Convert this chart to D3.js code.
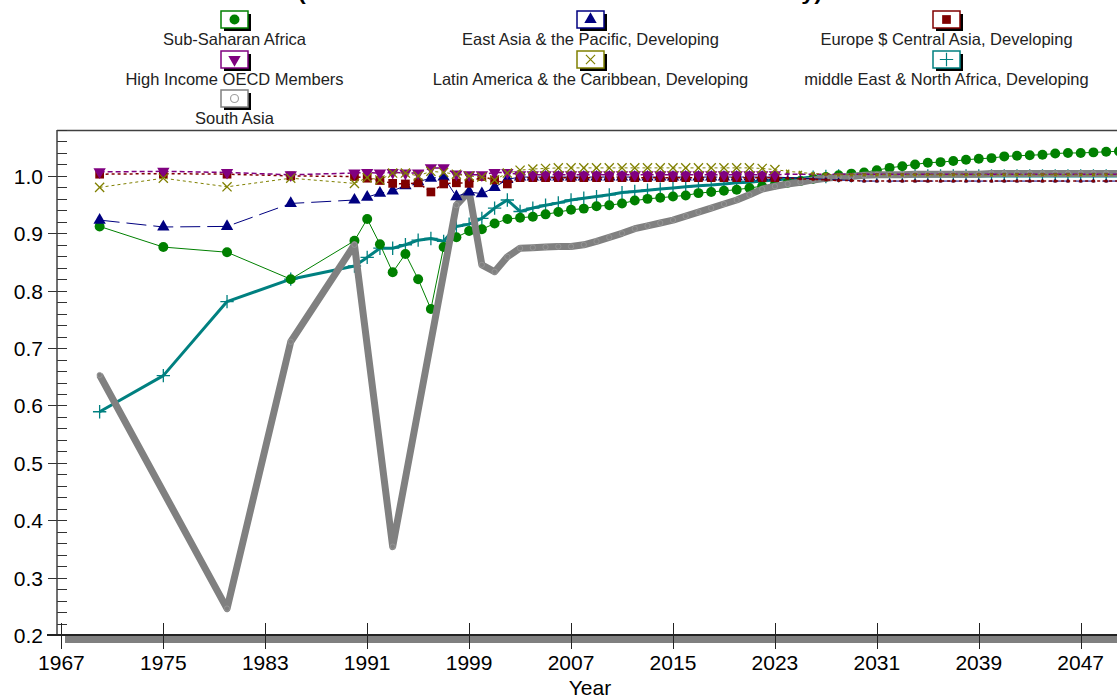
<!DOCTYPE html>
<html>
<head>
<meta charset="utf-8">
<script src="https://cdn.jsdelivr.net/npm/d3@7"></script>
<style>
  html, body { margin: 0; padding: 0; background: #ffffff; }
  svg { display: block; font-family: "Liberation Sans", Arial, sans-serif; }
</style>
</head>
<body>
<svg id="chart" width="1117" height="698"></svg>
<script>
// ---- Data -------------------------------------------------------------
const earlyYears = [1970, 1975, 1980, 1985];
const annualYears = d3.range(1990, 2051);
const regionYears = earlyYears.concat(annualYears);
const southAsiaYears = [1970, 1980, 1985, 1990, 1993, 1998, 1999].concat(d3.range(2000, 2051));

const xTickYears = [1967, 1975, 1983, 1991, 1999, 2007, 2015, 2023, 2031, 2039, 2047];
const yTickLabels = ["0.2", "0.3", "0.4", "0.5", "0.6", "0.7", "0.8", "0.9", "1.0"];

const subSaharanAfrica = [
  0.912, 0.876, 0.867, 0.820,
  0.887, 0.925, 0.881, 0.832, 0.864, 0.820, 0.768, 0.876, 0.893, 0.904,
  0.907, 0.917, 0.925, 0.927, 0.929, 0.933, 0.937, 0.941, 0.943, 0.947,
  0.949, 0.952, 0.957, 0.960, 0.962, 0.964, 0.966, 0.970, 0.972, 0.974,
  0.976, 0.979, 0.982, 0.985, 0.988, 0.991, 0.995, 0.998, 1.001, 1.004,
  1.006, 1.010, 1.014, 1.017, 1.020, 1.023, 1.024, 1.026, 1.028, 1.030,
  1.031, 1.034, 1.035, 1.036, 1.037, 1.039, 1.040, 1.040, 1.041, 1.042,
  1.043
];
const eastAsiaPacific = [
  0.923, 0.911, 0.912, 0.952,
  0.958, 0.963, 0.970, 0.974, 0.983, 0.990, 0.996, 0.998, 0.964, 0.972,
  0.969, 0.980, 0.994, 0.998, 0.998, 0.998, 0.998, 0.998, 0.998, 0.998,
  0.998, 0.998, 0.998, 0.998, 0.998, 0.998, 0.998, 0.998, 0.998, 0.998,
  0.998, 0.998, 0.998, 0.998, 0.997, 0.996, 0.995, 0.994, 0.993, 0.992,
  0.991, 0.991, 0.991, 0.991, 0.991, 0.991, 0.991, 0.991, 0.991, 0.991,
  0.991, 0.991, 0.991, 0.991, 0.991, 0.991, 0.991, 0.991, 0.991, 0.991,
  0.991
];
const europeCentralAsia = [
  1.003, 1.004, 1.003, 1.000,
  0.999, 0.996, 0.992, 0.987, 0.986, 0.988, 0.972, 0.986, 0.988, 0.987,
  0.999, 0.993, 0.986, 0.997, 0.997, 0.997, 0.997, 0.997, 0.997, 0.997,
  0.997, 0.997, 0.997, 0.997, 0.997, 0.997, 0.997, 0.997, 0.997, 0.997,
  0.997, 0.997, 0.997, 0.997, 0.996, 0.995, 0.994, 0.993, 0.992, 0.992,
  0.991, 0.991, 0.991, 0.991, 0.991, 0.991, 0.991, 0.991, 0.991, 0.991,
  0.991, 0.991, 0.991, 0.991, 0.991, 0.991, 0.991, 0.991, 0.991, 0.991,
  0.991
];
const highIncomeOECD = [
  1.007, 1.008, 1.006, 1.002,
  1.005, 1.006, 1.005, 1.006, 1.005, 1.005, 1.014, 1.014, 1.003, 1.002,
  1.002, 1.006, 1.006, 1.002, 1.002, 1.002, 1.002, 1.002, 1.002, 1.002,
  1.002, 1.002, 1.002, 1.002, 1.002, 1.002, 1.002, 1.002, 1.002, 1.002,
  1.002, 1.002, 1.002, 1.002, 1.003, 1.003, 1.003, 1.003, 1.003, 1.003,
  1.003, 1.003, 1.003, 1.003, 1.003, 1.003, 1.003, 1.003, 1.003, 1.003,
  1.003, 1.003, 1.003, 1.003, 1.003, 1.003, 1.003, 1.003, 1.003, 1.003,
  1.003
];
const latinAmericaCaribbean = [
  0.980, 0.996, 0.981, 0.996,
  0.987, 0.997, 0.993, 1.005, 1.005, 1.000, 1.008, 1.006, 1.003, 1.000,
  0.998, 0.993, 1.005, 1.010, 1.012, 1.013, 1.014, 1.014, 1.014, 1.014,
  1.014, 1.014, 1.014, 1.014, 1.014, 1.014, 1.014, 1.014, 1.014, 1.014,
  1.014, 1.014, 1.013, 1.011, 1.008, 1.006, 1.004, 1.003, 1.002, 1.002,
  1.002, 1.002, 1.002, 1.002, 1.002, 1.002, 1.002, 1.002, 1.002, 1.002,
  1.002, 1.002, 1.002, 1.002, 1.002, 1.002, 1.002, 1.002, 1.002, 1.002,
  1.002
];
const middleEastNorthAfrica = [
  0.589, 0.652, 0.781, 0.820,
  0.843, 0.858, 0.874, 0.874, 0.880, 0.888, 0.891, 0.886, 0.912, 0.916,
  0.926, 0.944, 0.958, 0.938, 0.944, 0.949, 0.953, 0.958, 0.961, 0.964,
  0.967, 0.971, 0.973, 0.975, 0.977, 0.979, 0.981, 0.983, 0.984, 0.986,
  0.988, 0.989, 0.991, 0.993, 0.995, 0.996, 0.998, 0.999, 1.000, 1.000,
  1.000, 1.000, 1.000, 1.000, 1.000, 1.000, 1.000, 1.000, 1.000, 1.000,
  1.000, 1.000, 1.000, 1.000, 1.000, 1.000, 1.000, 1.000, 1.000, 1.000,
  1.000
];
const southAsia = [
  0.653, 0.246, 0.711, 0.880, 0.354, 0.949, 0.973,
  0.845, 0.833, 0.859, 0.874, 0.875, 0.876, 0.877, 0.877, 0.880, 0.886,
  0.893, 0.900, 0.908, 0.913, 0.918, 0.923, 0.930, 0.937, 0.944, 0.951,
  0.958, 0.967, 0.977, 0.982, 0.986, 0.989, 0.993, 0.996, 0.998, 0.999,
  1.001, 1.002, 1.002, 1.002, 1.003, 1.003, 1.003, 1.003, 1.003, 1.003,
  1.004, 1.004, 1.004, 1.004, 1.004, 1.004, 1.004, 1.004, 1.004, 1.004,
  1.004
];

const seriesNames = [
  "Sub-Saharan Africa",
  "East Asia & the Pacific, Developing",
  "Europe $ Central Asia, Developing",
  "High Income OECD Members",
  "Latin America & the Caribbean, Developing",
  "middle East & North Africa, Developing",
  "South Asia"
];

// ---- Styling per series ----------------------------------------------
const series = [
  { name: seriesNames[0], years: regionYears, values: subSaharanAfrica, color: "#008000",
    width: 1, dash: null, symbol: d3.symbolCircle, size: 78, fill: true, rotate: 0, shrinkAfter: null },
  { name: seriesNames[1], years: regionYears, values: eastAsiaPacific, color: "#000080",
    width: 1, dash: "20,7", symbol: d3.symbolTriangle, size: 66, fill: true, rotate: 0, shrinkAfter: 2023 },
  { name: seriesNames[2], years: regionYears, values: europeCentralAsia, color: "#800000",
    width: 1.5, dash: "3,3", symbol: d3.symbolSquare, size: 76, fill: true, rotate: 0, shrinkAfter: 2023 },
  { name: seriesNames[3], years: regionYears, values: highIncomeOECD, color: "#800080",
    width: 1.5, dash: "5,3", symbol: d3.symbolTriangle, size: 66, fill: true, rotate: 180, shrinkAfter: 2023 },
  { name: seriesNames[4], years: regionYears, values: latinAmericaCaribbean, color: "#808000",
    width: 1, dash: "3,3", symbol: d3.symbolTimes, size: 56, fill: false, rotate: 0, shrinkAfter: 2023 },
  { name: seriesNames[5], years: regionYears, values: middleEastNorthAfrica, color: "#008080",
    width: 3, dash: null, symbol: d3.symbolPlus, size: 60, fill: false, rotate: 0, shrinkAfter: null },
  { name: seriesNames[6], years: southAsiaYears, values: southAsia, color: "#808080",
    width: 7, dash: null, symbol: d3.symbolCircle, size: 22, fill: false, rotate: 0, shrinkAfter: null }
];

// ---- Layout ------------------------------------------------------------
const svg = d3.select("#chart");
const plot = { left: 57, top: 130, right: 1130, bottom: 635 };

const x = d3.scaleLinear().domain([1967, 2047]).range([61.4, 1080.7]);
const y = d3.scaleLinear().domain([0.2, 1.08]).range([plot.bottom, plot.top]);

// Title (runs above the visible area)
svg.append("text")
  .attr("x", 298).attr("y", 0)
  .attr("textLength", 524).attr("lengthAdjust", "spacingAndGlyphs")
  .attr("font-size", 20).attr("font-weight", "bold").attr("fill", "#000")
  .text("(Ratio of Female to Male Enrollment in Tertiary)");

// ---- Legend ------------------------------------------------------------
const legendCols = [234.5, 590.5, 946.5];
const legendRows = [11, 51, 90];
series.forEach((s, i) => {
  const cx = legendCols[i % 3];
  const top = legendRows[Math.floor(i / 3)];
  const g = svg.append("g");
  g.append("rect").attr("x", cx - 13.5 + 3).attr("y", top + 3)
    .attr("width", 27).attr("height", 17).attr("fill", "#000");
  g.append("rect").attr("x", cx - 13.5).attr("y", top)
    .attr("width", 27).attr("height", 17)
    .attr("fill", "#fff").attr("stroke", s.color).attr("stroke-width", 1.5);
  const sym = d3.symbol().type(s.symbol).size(i === 6 ? 50 : s.size)();
  g.append("path").attr("d", sym)
    .attr("transform", `translate(${cx},${top + 8.5}) rotate(${s.rotate})`)
    .attr("fill", s.fill ? s.color : "none")
    .attr("stroke", s.fill ? "none" : (i === 6 ? "#a0a0a0" : s.color))
    .attr("stroke-width", 1.2);
  g.append("text").attr("x", cx).attr("y", top + 34)
    .attr("text-anchor", "middle").attr("font-size", 16.5).attr("fill", "#222")
    .text(s.name);
});

// ---- Axes & frame ------------------------------------------------------
const axisG = svg.append("g");

// shadow under the x axis
axisG.append("rect").attr("x", 65).attr("y", plot.bottom + 1)
  .attr("width", plot.right - 65).attr("height", 7).attr("fill", "#808080");

// top border
axisG.append("line").attr("x1", plot.left).attr("x2", plot.right)
  .attr("y1", plot.top + 0.5).attr("y2", plot.top + 0.5)
  .attr("stroke", "#404040").attr("stroke-width", 1.5);

// y axis ticks (minor every 0.02, major every 0.1)
const minorTicks = d3.range(0, 45).map(k => 0.2 + k * 0.02);
minorTicks.forEach(v => {
  const yy = Math.round(y(v)) + 0.5;
  axisG.append("line").attr("x1", plot.left).attr("x2", plot.left + 10)
    .attr("y1", yy).attr("y2", yy).attr("stroke", "#333").attr("stroke-width", 1);
});
yTickLabels.forEach(lbl => {
  const v = +lbl;
  const yy = Math.round(y(v)) + 0.5;
  axisG.append("line").attr("x1", plot.left - 9).attr("x2", plot.left + 10)
    .attr("y1", yy).attr("y2", yy).attr("stroke", "#333").attr("stroke-width", 1);
  axisG.append("text").attr("x", 43).attr("y", yy).attr("dy", "0.36em")
    .attr("text-anchor", "end").attr("font-size", 21).attr("fill", "#000")
    .text(lbl);
});

// y axis line
axisG.append("line").attr("x1", plot.left).attr("x2", plot.left)
  .attr("y1", plot.top).attr("y2", plot.bottom)
  .attr("stroke", "#404040").attr("stroke-width", 1.5);

// x axis ticks and labels
xTickYears.forEach(yr => {
  const xx = Math.round(x(yr)) + 0.5;
  axisG.append("line").attr("x1", xx).attr("x2", xx)
    .attr("y1", plot.bottom - 12).attr("y2", plot.bottom + 14)
    .attr("stroke", "#222").attr("stroke-width", 1);
  axisG.append("text").attr("x", x(yr)).attr("y", 670)
    .attr("text-anchor", "middle").attr("font-size", 21).attr("fill", "#000")
    .text(yr);
});

// x axis line
axisG.append("line").attr("x1", plot.left - 10).attr("x2", plot.right)
  .attr("y1", plot.bottom).attr("y2", plot.bottom)
  .attr("stroke", "#222").attr("stroke-width", 2);

svg.append("text").attr("x", 590).attr("y", 695)
  .attr("text-anchor", "middle").attr("font-size", 21).attr("fill", "#000")
  .text("Year");

// ---- Series ------------------------------------------------------------
svg.append("clipPath").attr("id", "plotClip")
  .append("rect").attr("x", plot.left + 1).attr("y", plot.top + 1)
  .attr("width", plot.right - plot.left).attr("height", plot.bottom - plot.top - 2);

const dataG = svg.append("g").attr("clip-path", "url(#plotClip)");
const line = d3.line().x(d => x(d.year)).y(d => y(d.value));

// drawing order: teal, green, gray, then the near-parity group
const drawOrder = [5, 0, 6, 1, 2, 3, 4];
drawOrder.forEach(i => {
  const s = series[i];
  const pts = s.years.map((yr, k) => ({ year: yr, value: s.values[k] }));
  const g = dataG.append("g");
  g.append("path").datum(pts).attr("d", line)
    .attr("fill", "none").attr("stroke", s.color)
    .attr("stroke-width", s.width)
    .attr("stroke-dasharray", s.dash)
    .attr("stroke-linejoin", "round").attr("stroke-linecap", "butt");
  g.selectAll("path.m").data(pts).join("path").attr("class", "m")
    .attr("d", d => {
      const small = s.shrinkAfter !== null && d.year > s.shrinkAfter;
      return d3.symbol().type(s.symbol).size(small ? 8 : s.size)();
    })
    .attr("transform", d => `translate(${x(d.year)},${y(d.value)}) rotate(${s.rotate})`)
    .attr("fill", s.fill ? s.color : (i === 6 ? "#808080" : "none"))
    .attr("stroke", s.fill ? "none" : (i === 6 ? "#999999" : s.color))
    .attr("stroke-width", s.fill ? 0 : (i === 6 ? 0.8 : 1.3));
});
</script>
</body>
</html>
